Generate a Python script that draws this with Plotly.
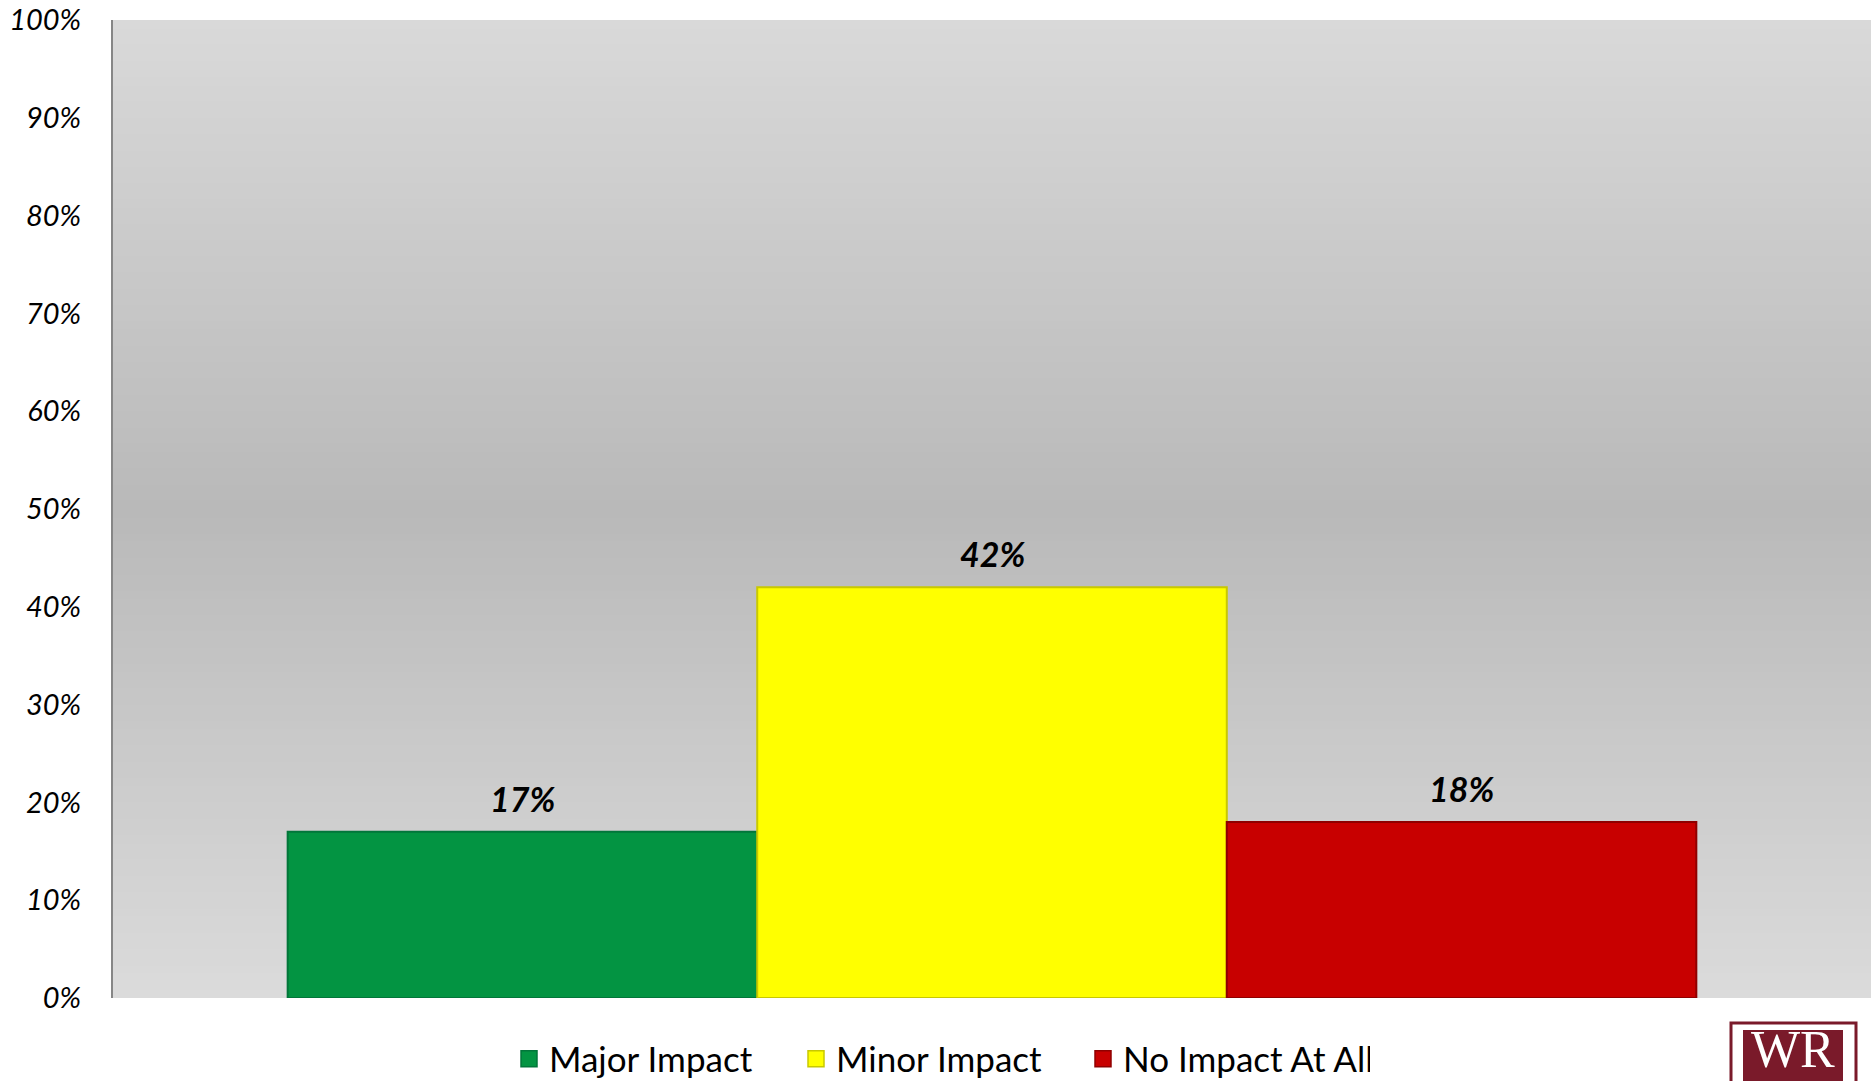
import plotly.graph_objects as go

categories = ["Major Impact", "Minor Impact", "No Impact At All"]
values = [0.17, 0.42, 0.18]
labels = ["17%", "42%", "18%"]
colors = ["#039442", "#ffff00", "#c80000"]
line_colors = ["#02763a", "#c8c800", "#8f0000"]
tick_vals = [i / 10 for i in range(11)]
tick_text = [f"{i*10}%" for i in range(11)]

W, H = 1871, 1081
# target plot area in page pixels: x 113..1871, y 20..998 (body margin removed via post_script)
L = 113
T = 20
B = H - 998
R = 0

def px_x(px):
    return (px - L) / (W - L - R)
def px_y(py):
    return (H - B - py) / (H - T - B)

fig = go.Figure()
for i, (c, v) in enumerate(zip(categories, values)):
    fig.add_trace(go.Bar(
        x=[c], y=[v], name=c, width=1.0, showlegend=False, legendgroup=c,
        marker=dict(color=colors[i], line=dict(color=line_colors[i], width=2)),
        hoverinfo="skip",
    ))
    fig.add_annotation(x=c, y=v, text=f"<b><i>{labels[i]}</i></b>", showarrow=False,
                       yanchor="bottom", yshift=11,
                       font=dict(family="Lato", size=34, color="#000000"))
for i, c in enumerate(categories):
    fig.add_trace(go.Scatter(
        x=[None], y=[None], name=c, mode="markers", legendgroup=c,
        marker=dict(symbol="square", size=24, color=colors[i], line=dict(color=line_colors[i], width=1.5)),
    ))

# gradient background stripes
shapes = []
n = 120
def gray(f):
    if f >= 0.5:
        t = (f - 0.5) / 0.5
        g = 185 + t * (217 - 185)
    else:
        t = (0.5 - f) / 0.5
        g = 185 + t * (219 - 185)
    g = int(round(g))
    return f"rgb({g},{g},{g})"
for k in range(n):
    y0 = k / n
    y1 = (k + 1) / n + 0.001
    shapes.append(dict(type="rect", xref="x domain", yref="y domain", x0=0, x1=1, y0=y0, y1=min(y1, 1),
                       fillcolor=gray((k + 0.5) / n), line=dict(width=0), layer="below"))

# logo
shapes.append(dict(type="rect", xref="paper", yref="paper", x0=px_x(1731), x1=px_x(1856), y0=px_y(1023), y1=px_y(1100),
                   fillcolor="white", line=dict(color="#7a1a2a", width=3), layer="above"))
shapes.append(dict(type="rect", xref="paper", yref="paper", x0=px_x(1743), x1=px_x(1843), y0=px_y(1030), y1=px_y(1100),
                   fillcolor="#7a1a2a", line=dict(width=0), layer="above"))
fig.add_annotation(xref="paper", yref="paper", x=px_x(1793), y=px_y(1080), text="WR", showarrow=False,
                   xanchor="center", yanchor="bottom",
                   font=dict(family="Liberation Serif", size=52, color="white"))

fig.update_layout(
    width=W, height=H,
    margin=dict(l=L, r=R, t=T, b=B, autoexpand=False),
    paper_bgcolor="white",
    plot_bgcolor="#c8c8c8",
    barmode="overlay",
    shapes=shapes,
    showlegend=True,
    legend=dict(orientation="h", x=px_x(509), xanchor="left", y=px_y(1059), yanchor="middle",
                font=dict(family="Lato", size=35, color="#000000"), itemwidth=30,
                entrywidth=242, entrywidthmode="pixels",
                bgcolor="rgba(0,0,0,0)"),
    xaxis=dict(range=[-0.872, 2.872], showticklabels=False, showgrid=False, zeroline=False,
               showline=False, ticks=""),
    yaxis=dict(range=[0, 1], tickvals=tick_vals, ticktext=tick_text, showgrid=False, zeroline=False,
               showline=True, linecolor="#868686", linewidth=2, ticks="",
               ticklabelstandoff=24, automargin=False, ticklabeloverflow="allow",
               tickfont=dict(family="Lato", size=29, color="#000000", style="italic")),
)

fig.write_html("out.html", config={"displayModeBar": False},
               post_script="document.body.style.margin='0px';")
